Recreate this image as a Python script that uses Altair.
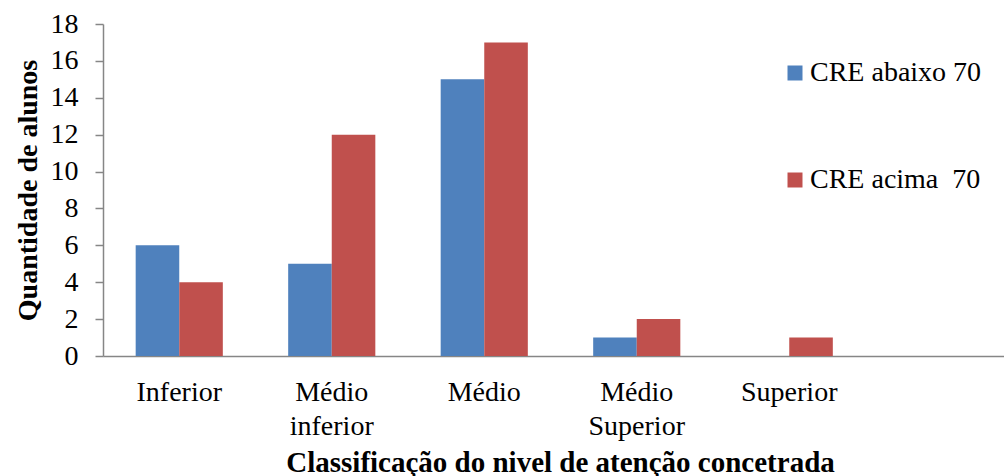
import altair as alt
import pandas as pd

# Attention-level categories (the trailing blank slot keeps the axis running on)
categorias = ["Inferior", "Médio inferior", "Médio", "Médio Superior", "Superior"]
series = ["CRE abaixo 70", "CRE acima \u00a070"]
abaixo_70 = [6, 5, 15, 1, 0]
acima_70 = [4, 12, 17, 2, 1]
cores = ["#4F81BD", "#C0504D"]
y_ticks = [0, 2, 4, 6, 8, 10, 12, 14, 16, 18]

rows = []
for cat, a, b in zip(categorias, abaixo_70, acima_70):
    rows.append({"categoria": cat, "serie": series[0], "valor": a})
    rows.append({"categoria": cat, "serie": series[1], "valor": b})
df = pd.DataFrame(rows)

eixo_cor = "#868686"
fonte = "'Liberation Serif', 'Times New Roman', serif"

chart = (
    alt.Chart(df)
    .mark_bar()
    .encode(
        x=alt.X(
            "categoria:N",
            sort=None,
            scale=alt.Scale(domain=categorias + [" "], range=[0, 915],
                            paddingInner=0, paddingOuter=0),
            axis=alt.Axis(
                title="Classificação do nivel de atenção concetrada",
                titleFont=fonte, titleFontSize=29, titleFontWeight="bold",
                titleColor="black", titleX=457, titleY=115,
                titleBaseline="alphabetic", titleAlign="center",
                labelFont=fonte, labelFontSize=28, labelColor="black",
                labelAngle=0, labelBaseline="top", labelPadding=22,
                labelLineHeight=34, labelExpr="split(datum.label, ' ')",
                ticks=False, domainColor=eixo_cor, domainWidth=1.5,
                grid=False, labelOverlap=False,
            ),
        ),
        xOffset=alt.XOffset(
            "serie:N",
            scale=alt.Scale(domain=series, paddingInner=0, paddingOuter=0.75),
        ),
        y=alt.Y(
            "valor:Q",
            scale=alt.Scale(domain=[0, 18], nice=False),
            axis=alt.Axis(
                title="Quantidade de alunos",
                titleFont=fonte, titleFontSize=28, titleFontWeight="bold",
                titleColor="black", titleAngle=270, titleX=-75, titleY=166,
                titleBaseline="middle", titleAlign="center",
                values=y_ticks, labelFont=fonte, labelFontSize=28,
                labelColor="black", labelPadding=17,
                tickSize=8, tickColor=eixo_cor, tickWidth=1.5,
                domainColor=eixo_cor, domainWidth=1.5, grid=False,
            ),
        ),
        color=alt.Color(
            "serie:N",
            scale=alt.Scale(domain=series, range=cores),
            legend=alt.Legend(
                title=None, orient="none", legendX=678, legendY=35,
                symbolType="square", symbolSize=225, symbolStrokeWidth=0,
                symbolOpacity=1,
                labelFont=fonte, labelFontSize=28, labelColor="black",
                labelOffset=1, labelLimit=400, rowPadding=79, padding=0,
            ),
        ),
    )
    .properties(
        width=901,
        height=332,
        autosize=alt.AutoSizeParams(type="none"),
        padding={"left": 103, "top": 24, "right": 0, "bottom": 120},
    )
    .configure(font=fonte)
    .configure_view(stroke=None)
)

chart.save("out.html", embed_options={"renderer": "svg", "actions": False})
